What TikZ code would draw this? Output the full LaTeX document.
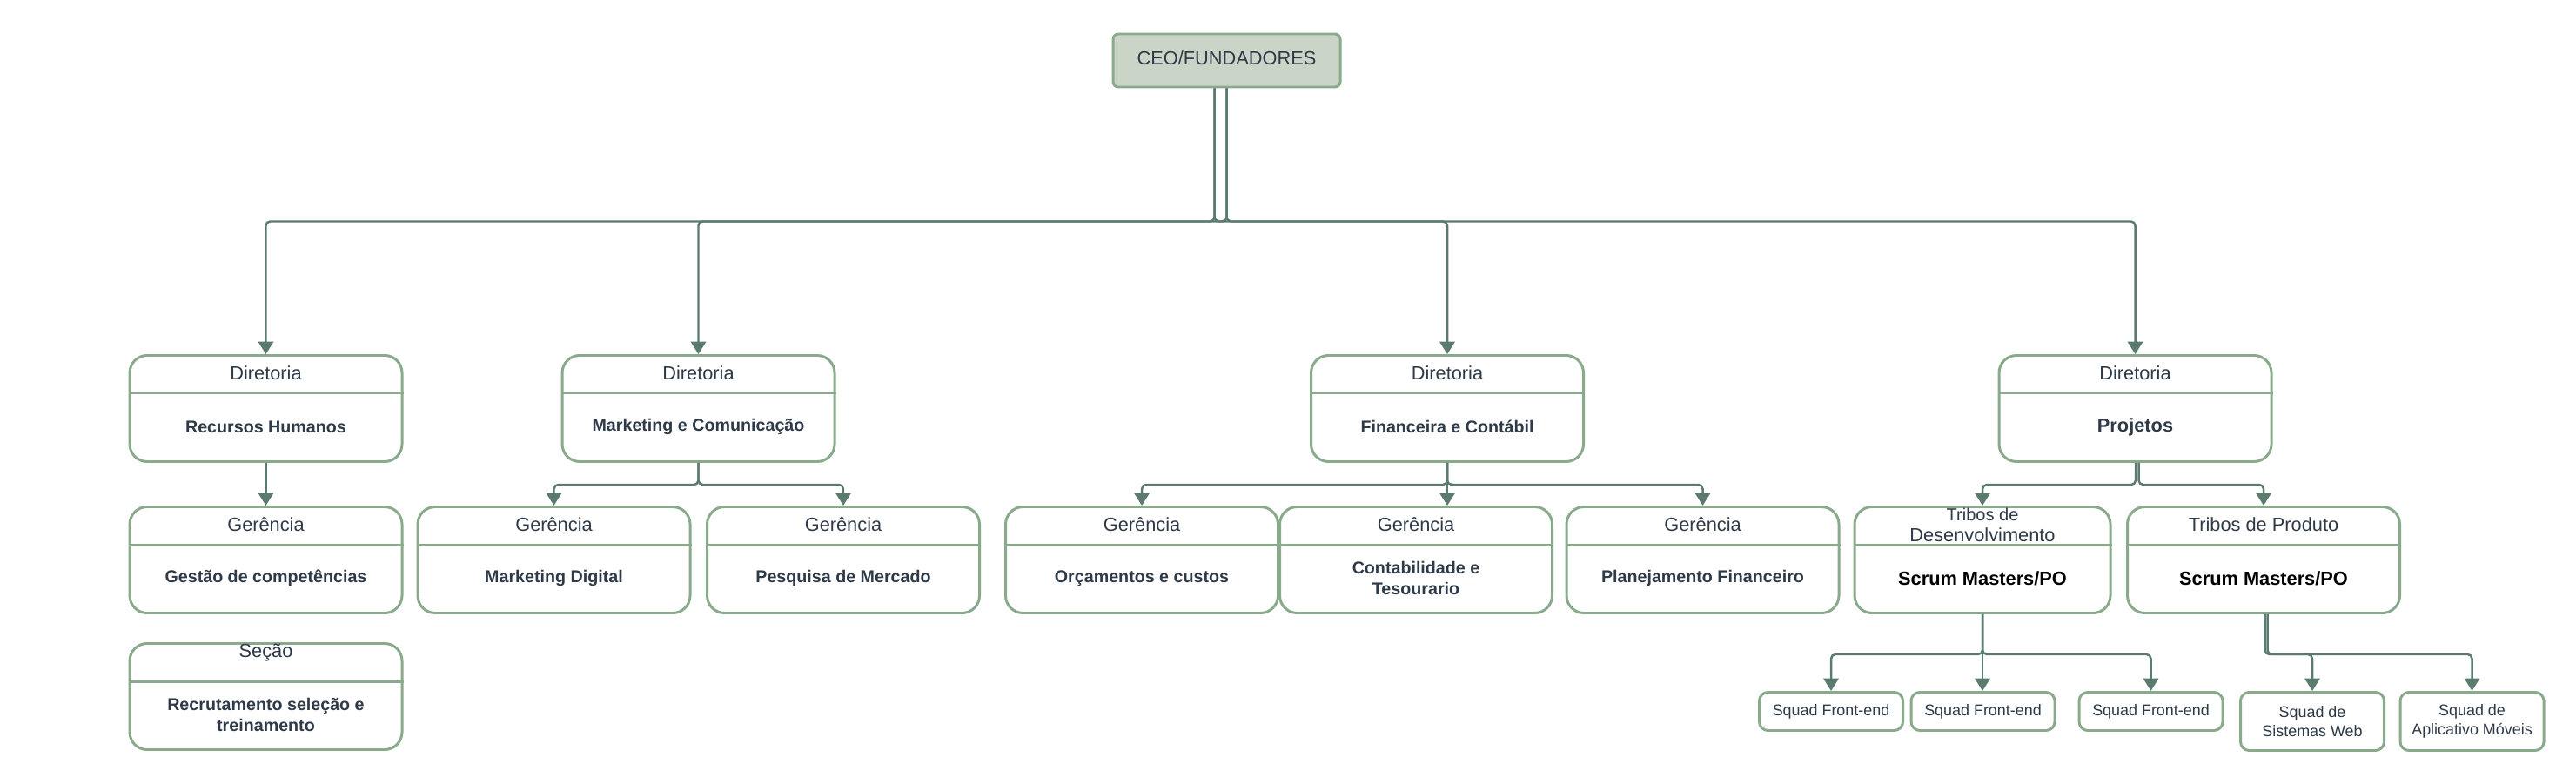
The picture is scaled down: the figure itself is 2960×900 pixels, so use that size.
\documentclass[tikz,border=0pt]{standalone}
\usepackage{fontspec}
\setmainfont{Liberation Sans}
\usetikzlibrary{arrows.meta}
\definecolor{boxline}{HTML}{8AAA8C}
\definecolor{linkline}{HTML}{5B7B6F}
\definecolor{ceofill}{HTML}{CBD5C7}
\definecolor{textdark}{HTML}{2E3A48}
\tikzset{>={Triangle[length=1.45mm,width=1.75mm]}}
\tikzset{
  unit/.style={draw=boxline, line width=0.85pt, rounded corners=0.2cm, minimum width=3.13cm, minimum height=1.22cm, inner sep=0pt},
  squad/.style={draw=boxline, line width=0.85pt, rounded corners=0.1cm, minimum width=1.65cm, minimum height=0.44cm, inner sep=0pt, align=center, text=textdark, font=\fontsize{5.1}{6.3}\selectfont},
  headtext/.style={text=textdark, font=\fontsize{6.2}{6.8}\selectfont, align=center, inner sep=0pt},
  bodytext/.style={text=textdark, font=\fontsize{5.6}{6.7}\selectfont\bfseries, align=center, inner sep=0pt},
  link/.style={draw=linkline, line width=0.7pt, rounded corners=0.05cm, ->},
}
% box with a header strip and a body
\newcommand{\orgunit}[6][]{%
  \node[unit, anchor=north, #1] (#2) at (#3,#4) {};
  \draw[boxline, line width=0.85pt] ([yshift=-0.45cm]#2.north west) -- ([yshift=-0.45cm]#2.north east);
  \node[headtext] (#2-head) at ([yshift=-0.22cm]#2.north) {#5};
  \node[bodytext] (#2-body) at ([yshift=-0.835cm]#2.north) {#6};
}

\begin{document}
\begin{tikzpicture}[x=0.1mm, y=-0.1mm]
    \useasboundingbox (0,0) rectangle (2960,900);
    \node[draw=boxline, fill=ceofill, line width=0.85pt, rounded corners=0.06cm, minimum width=2.61cm, minimum height=0.61cm, text depth=1.8pt, text=textdark, font=\fontsize{6.2}{7}\selectfont] (ceo) at (1409.5,69.5) {CEO/FUNDADORES};

    % directors
    \orgunit{rh}{305.5}{407}{Diretoria}{Recursos Humanos}
    \orgunit{mkt}{802.5}{407}{Diretoria}{Marketing e Comunicação}
    \orgunit{fin}{1663}{407}{Diretoria}{Financeira e Contábil}
    \orgunit{proj}{2453.5}{407}{Diretoria}{\fontsize{6.2}{7}\selectfont Projetos}

    % managers
    \orgunit{gc}{305.5}{581}{Gerência}{Gestão de competências}
    \orgunit{secao}{305.5}{738}{\raisebox{2.4mm}{Seção}}{Recrutamento seleção e\\treinamento}
    \orgunit{mkd}{636.5}{581}{Gerência}{Marketing Digital}
    \orgunit{pesq}{969}{581}{Gerência}{Pesquisa de Mercado}
    \orgunit{orc}{1312}{581}{Gerência}{Orçamentos e custos}
    \orgunit{cont}{1627}{581}{Gerência}{Contabilidade e\\Tesourario}
    \orgunit{plan}{1956.5}{581}{Gerência}{Planejamento Financeiro}
    \orgunit[minimum width=2.94cm]{tdev}{2278}{581}{\fontsize{5.7}{6.8}\selectfont Tribos de\\Desenvolvimento}{\fontsize{6.2}{7}\selectfont\color{black}Scrum Masters/PO}
    \orgunit{tprod}{2601}{581}{Tribos de Produto}{\fontsize{6.2}{7}\selectfont\color{black}Scrum Masters/PO}

    % squads
    \node[squad, anchor=north] (sq1) at (2104,794) {Squad Front-end};
    \node[squad, anchor=north] (sq2) at (2278.5,794) {Squad Front-end};
    \node[squad, anchor=north] (sq3) at (2471.5,794) {Squad Front-end};
    \node[squad, anchor=north, minimum height=0.67cm] (web) at (2657,794) {Squad de\\Sistemas Web};
    \node[squad, anchor=north, minimum height=0.67cm] (app) at (2840.5,794) {Squad de\\Aplicativo Móveis};

    % connectors
    \draw[link] ([xshift=-0.14cm]ceo.south) -- ++(0,153) -| (rh.north);
    \draw[link] ([xshift=-0.14cm]ceo.south) -- ++(0,153) -| (fin.north);
    \draw[link] (ceo.south) -- ++(0,153) -| (mkt.north);
    \draw[link] (ceo.south) -- ++(0,153) -| (proj.north);

    \draw[link] (rh.south) -- (gc.north);

    \draw[link] (mkt.south) -- ++(0,25) -| (mkd.north);
    \draw[link] (mkt.south) -- ++(0,25) -| (pesq.north);

    \draw[link] (fin.south) -- ++(0,25) -| (orc.north);
    \draw[link] (fin.south) -- (fin.south |- cont.north);
    \draw[link] (fin.south) -- ++(0,25) -| (plan.north);

    \draw[link] ([xshift=0.005cm]proj.south) -- ++(0,25) -| (tdev.north);
    \draw[link] ([xshift=0.04cm]proj.south) -- ++(0,25) -| (tprod.north);

    \draw[link] (tdev.south) -- ++(0,46) -| (sq1.north);
    \draw[link] (tdev.south) -- (tdev.south |- sq2.north);
    \draw[link] (tdev.south) -- ++(0,46) -| (sq3.north);

    \draw[link] ([xshift=0.015cm]tprod.south) -- ++(0,46) -| (web.north);
    \draw[link] ([xshift=0.045cm]tprod.south) -- ++(0,46) -| (app.north);
\end{tikzpicture}
\end{document}
